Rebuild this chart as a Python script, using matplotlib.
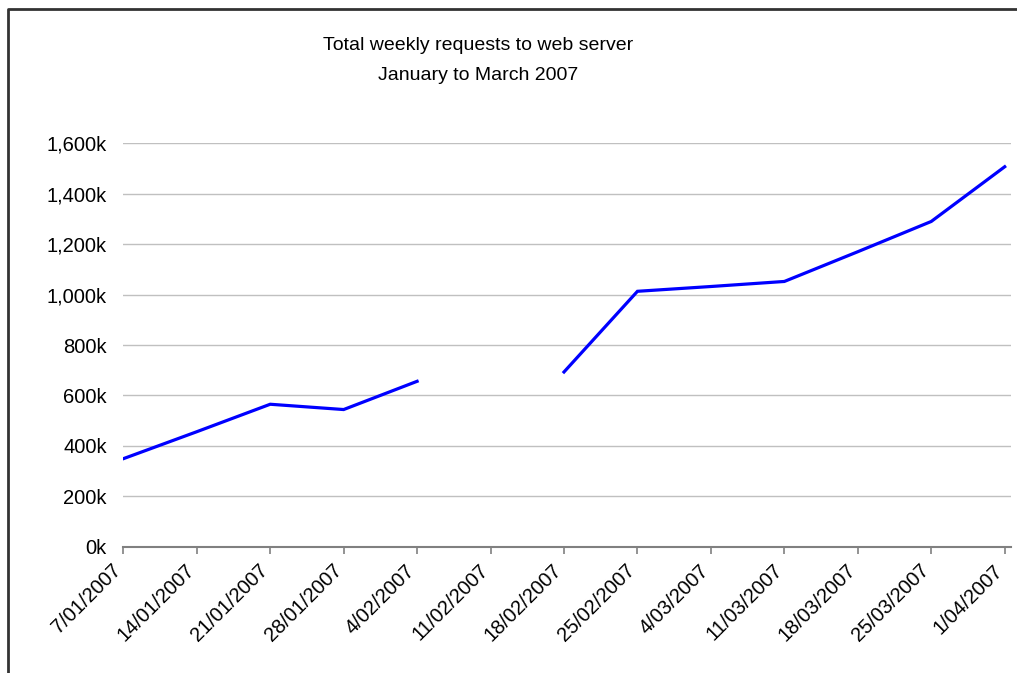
## -- Weekly web server requests chart -- ##
import numpy as np
import datetime as dt
import matplotlib
matplotlib.use("Agg")
import matplotlib.pyplot as plt
import matplotlib.dates as mdates
from matplotlib.transforms import ScaledTranslation
from matplotlib.lines import Line2D

plt.rcParams['font.family'] = ['Liberation Sans', 'DejaVu Sans']

## ---- Data ---- ##
week_start = dt.date(2007, 1, 7)
week_dates = [week_start + dt.timedelta(days=7 * i) for i in range(13)]
week_labels = [f"{d.day}/{d.month:02d}/{d.year}" for d in week_dates]
# total requests per week (11/02 missing)
requests = [349000, 456000, 565000, 544000, 656000, np.nan, 693000,
            1013000, 1032000, 1052000, 1170000, 1290000, 1507000]

TITLE_1 = "Total weekly requests to web server"
TITLE_2 = "January to March 2007"

## ---- Figure ---- ##
W, H, DPI = 1017, 673, 100
fig = plt.figure(figsize=(W / DPI, H / DPI), dpi=DPI)
ax = fig.add_axes([123.3 / W, 1 - 546.7 / H, (1011 - 123.3) / W, (546.7 - 143.3) / H])

x = mdates.date2num(week_dates)
ax.plot(x, requests, color="#0000ff", linewidth=2.3, solid_joinstyle="miter")

ax.set_xlim(x[0], x[-1] + 0.6)
ax.set_ylim(0, 1600000)
ax.set_yticks(np.arange(0, 1600001, 200000))
ax.yaxis.set_major_formatter(plt.FuncFormatter(lambda v, _: f"{v / 1000:,.0f}k"))
ax.set_xticks(x)
ax.set_xticklabels(week_labels, rotation=45, ha="right", va="center",
                   rotation_mode="anchor", fontsize=14.5)

ax.grid(axis="y", color="#c0c0c0", linewidth=1.0)
ax.set_axisbelow(True)
for s in ["top", "right", "left"]:
    ax.spines[s].set_visible(False)
ax.spines["bottom"].set_color("#808080")
ax.spines["bottom"].set_linewidth(1.5)
ax.tick_params(axis="y", length=0, pad=12, labelsize=14.5)
ax.tick_params(axis="x", length=5, width=1.2, color="#808080", direction="out", pad=10)

for lab in ax.get_xticklabels():
    lab.set_transform(lab.get_transform() + ScaledTranslation(-5 / DPI, 0, fig.dpi_scale_trans))

fig.text(478 / W, 1 - 45 / H, TITLE_1, ha="center", va="center", fontsize=14)
fig.text(478 / W, 1 - 76 / H, TITLE_2, ha="center", va="center", fontsize=14)

# chart area border (left and top edges)
fig.add_artist(Line2D([7.5 / W, 7.5 / W, 1.0], [0.0, 1 - 9 / H, 1 - 9 / H],
                      transform=fig.transFigure, color="#333333", linewidth=2))

fig.savefig("out.png", dpi=DPI)
